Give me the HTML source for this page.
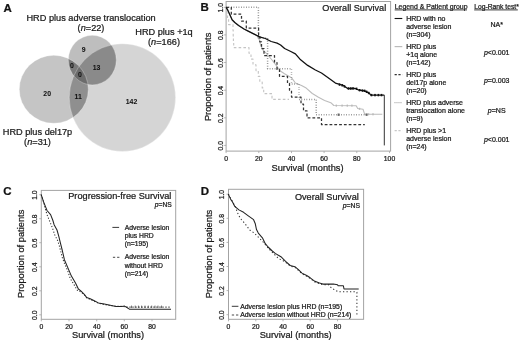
<!DOCTYPE html>
<html><head><meta charset="utf-8"><style>
html,body{margin:0;padding:0;background:#fff;}
svg{display:block;filter:grayscale(1);}
svg text{font-family:"Liberation Sans", sans-serif;stroke:#1a1a1a;stroke-width:0.24px;}
</style></head><body>
<svg width="520" height="341" viewBox="0 0 520 341">
<rect width="520" height="341" fill="#fff"/>
<defs>
<clipPath id="cL"><ellipse cx="122.4" cy="97.6" rx="53.2" ry="53.9" /></clipPath>
<clipPath id="cD"><ellipse cx="53.8" cy="89.3" rx="34.5" ry="34.0" /></clipPath>
<clipPath id="cT"><ellipse cx="92.3" cy="60.1" rx="24.0" ry="24.8" /></clipPath>
</defs>
<ellipse cx="122.4" cy="97.6" rx="53.2" ry="53.9" fill="#d5d5d5"/>
<ellipse cx="53.8" cy="89.3" rx="34.5" ry="34.0" fill="#c5c5c5"/>
<ellipse cx="92.3" cy="60.1" rx="24.0" ry="24.8" fill="#bebebe"/>
<g clip-path="url(#cL)"><ellipse cx="53.8" cy="89.3" rx="34.5" ry="34.0" fill="#8f8f8f"/><ellipse cx="92.3" cy="60.1" rx="24.0" ry="24.8" fill="#8a8a8a"/></g>
<g clip-path="url(#cD)"><ellipse cx="92.3" cy="60.1" rx="24.0" ry="24.8" fill="#7a7a7a"/></g>
<g clip-path="url(#cL)"><g clip-path="url(#cD)"><ellipse cx="92.3" cy="60.1" rx="24.0" ry="24.8" fill="#6c6c6c"/></g></g>
<ellipse cx="122.4" cy="97.6" rx="53.2" ry="53.9" fill="none" stroke="#ffffff" stroke-opacity="0.35" stroke-width="0.9"/>
<ellipse cx="53.8" cy="89.3" rx="34.5" ry="34.0" fill="none" stroke="#ffffff" stroke-opacity="0.35" stroke-width="0.9"/>
<ellipse cx="92.3" cy="60.1" rx="24.0" ry="24.8" fill="none" stroke="#ffffff" stroke-opacity="0.35" stroke-width="0.9"/>
<text x="3.4" y="11.6" font-size="11.5" text-anchor="start" font-weight="bold" fill="#111" >A</text>
<text x="91.1" y="20.7" font-size="9.2" text-anchor="middle" font-weight="normal" fill="#1a1a1a" >HRD plus adverse translocation</text>
<text x="91.0" y="30.9" font-size="9.2" text-anchor="middle" font-weight="normal" fill="#1a1a1a" >(<tspan font-style="italic">n</tspan>=22)</text>
<text x="164.0" y="35.2" font-size="9.2" text-anchor="middle" font-weight="normal" fill="#1a1a1a" >HRD plus +1q</text>
<text x="164.0" y="45.4" font-size="9.2" text-anchor="middle" font-weight="normal" fill="#1a1a1a" >(<tspan font-style="italic">n</tspan>=166)</text>
<text x="37.5" y="135.3" font-size="9.2" text-anchor="middle" font-weight="normal" fill="#1a1a1a" >HRD plus del17p</text>
<text x="37.5" y="145.3" font-size="9.2" text-anchor="middle" font-weight="normal" fill="#1a1a1a" >(<tspan font-style="italic">n</tspan>=31)</text>
<text x="83.6" y="51.5" font-size="6.9" text-anchor="middle" font-weight="bold" fill="#111" style="stroke-width:0.05px">9</text>
<text x="96.6" y="70.0" font-size="6.9" text-anchor="middle" font-weight="bold" fill="#111" style="stroke-width:0.05px">13</text>
<text x="72.0" y="68.2" font-size="6.9" text-anchor="middle" font-weight="bold" fill="#111" style="stroke-width:0.05px">0</text>
<text x="79.9" y="77.3" font-size="6.9" text-anchor="middle" font-weight="bold" fill="#111" style="stroke-width:0.05px">0</text>
<text x="47.2" y="95.9" font-size="6.9" text-anchor="middle" font-weight="bold" fill="#111" style="stroke-width:0.05px">20</text>
<text x="78.2" y="98.7" font-size="6.9" text-anchor="middle" font-weight="bold" fill="#111" style="stroke-width:0.05px">11</text>
<text x="131.5" y="103.8" font-size="6.9" text-anchor="middle" font-weight="bold" fill="#111" style="stroke-width:0.05px">142</text>
<text x="200.6" y="11.3" font-size="11.5" text-anchor="start" font-weight="bold" fill="#111" >B</text>
<rect x="226.1" y="1.5" width="164.50000000000003" height="149.6" fill="none" stroke="#a3a3a3" stroke-width="1"/>
<line x1="224.1" y1="145.4" x2="226.1" y2="145.4" stroke="#a3a3a3" stroke-width="0.8"/><text x="222.70000000000002" y="145.8" font-size="6.8" text-anchor="middle" fill="#222" transform="rotate(-90 222.70000000000002 145.8)">0.0</text><line x1="224.1" y1="117.8" x2="226.1" y2="117.8" stroke="#a3a3a3" stroke-width="0.8"/><text x="222.70000000000002" y="118.2" font-size="6.8" text-anchor="middle" fill="#222" transform="rotate(-90 222.70000000000002 118.2)">0.2</text><line x1="224.1" y1="90.2" x2="226.1" y2="90.2" stroke="#a3a3a3" stroke-width="0.8"/><text x="222.70000000000002" y="90.6" font-size="6.8" text-anchor="middle" fill="#222" transform="rotate(-90 222.70000000000002 90.6)">0.4</text><line x1="224.1" y1="62.5" x2="226.1" y2="62.5" stroke="#a3a3a3" stroke-width="0.8"/><text x="222.70000000000002" y="62.9" font-size="6.8" text-anchor="middle" fill="#222" transform="rotate(-90 222.70000000000002 62.9)">0.6</text><line x1="224.1" y1="34.9" x2="226.1" y2="34.9" stroke="#a3a3a3" stroke-width="0.8"/><text x="222.70000000000002" y="35.3" font-size="6.8" text-anchor="middle" fill="#222" transform="rotate(-90 222.70000000000002 35.3)">0.8</text><line x1="224.1" y1="7.3" x2="226.1" y2="7.3" stroke="#a3a3a3" stroke-width="0.8"/><text x="222.70000000000002" y="7.7" font-size="6.8" text-anchor="middle" fill="#222" transform="rotate(-90 222.70000000000002 7.7)">1.0</text>
<line x1="226.1" y1="151.1" x2="226.1" y2="153.1" stroke="#a3a3a3" stroke-width="0.8"/><text x="226.1" y="161.4" font-size="6.8" text-anchor="middle" fill="#222">0</text><line x1="258.8" y1="151.1" x2="258.8" y2="153.1" stroke="#a3a3a3" stroke-width="0.8"/><text x="258.8" y="161.4" font-size="6.8" text-anchor="middle" fill="#222">20</text><line x1="291.5" y1="151.1" x2="291.5" y2="153.1" stroke="#a3a3a3" stroke-width="0.8"/><text x="291.5" y="161.4" font-size="6.8" text-anchor="middle" fill="#222">40</text><line x1="324.1" y1="151.1" x2="324.1" y2="153.1" stroke="#a3a3a3" stroke-width="0.8"/><text x="324.1" y="161.4" font-size="6.8" text-anchor="middle" fill="#222">60</text><line x1="356.8" y1="151.1" x2="356.8" y2="153.1" stroke="#a3a3a3" stroke-width="0.8"/><text x="356.8" y="161.4" font-size="6.8" text-anchor="middle" fill="#222">80</text><line x1="389.5" y1="151.1" x2="389.5" y2="153.1" stroke="#a3a3a3" stroke-width="0.8"/><text x="389.5" y="161.4" font-size="6.8" text-anchor="middle" fill="#222">100</text>
<text x="307.5" y="170.8" font-size="9.25" text-anchor="middle" font-weight="normal" fill="#1a1a1a" >Survival (months)</text>
<text x="210.6" y="76.9" font-size="9.3" text-anchor="middle" fill="#1a1a1a" transform="rotate(-90 210.6 76.9)">Proportion of patients</text>
<text x="386.2" y="11.4" font-size="9.15" text-anchor="end" font-weight="normal" fill="#1a1a1a" >Overall Survival</text>
<polyline points="226.1,7.3 226.6,7.3 226.6,13.0 227.5,13.0 227.5,18.8 228.6,18.8 228.6,24.6 233.0,24.6 233.0,30.3 233.2,30.3 233.2,36.1 233.4,36.1 233.4,41.8 233.7,41.8 233.7,47.6 249.0,47.6 249.0,53.3 251.0,53.3 251.0,59.1 253.0,59.1 253.0,64.8 256.0,64.8 256.0,70.6 258.3,70.6 258.3,76.4 259.8,76.4 259.8,82.1 262.2,82.1 262.2,87.9 263.7,87.9 263.7,93.6 272.0,93.6 272.0,99.4 289.0,99.4 289.0,99.4" fill="none" stroke="#c4c4c4" stroke-width="1.1" stroke-dasharray="2.6 2.2" stroke-linejoin="round" stroke-opacity="1"/>
<polyline points="226.1,7.3 227.8,10.2 230.2,15.5 232.1,19.8 234.8,22.5 238.6,25.5 244.0,29.0 247.7,30.9 253.6,33.8 257.5,36.0 259.5,40.3 260.6,45.0 263.0,50.0 267.5,54.6 272.0,60.0 276.8,66.2 280.0,70.8 284.5,73.8 291.5,77.7 295.4,83.0 301.5,85.4 306.2,88.1 312.3,93.5 318.5,97.3 324.6,100.4 330.8,102.7 333.8,105.5 356.2,105.8 357.7,108.5 363.0,109.2 364.6,114.2 382.3,114.2" fill="none" stroke="#bcbcbc" stroke-width="1.1" stroke-linejoin="round" stroke-opacity="1"/>
<polyline points="226.1,7.3 258.4,7.3 258.4,38.0 267.6,38.0 267.6,68.7 291.5,68.7 291.5,84.1 299.0,84.1 299.0,99.4 316.2,99.4 316.2,114.7 366.2,114.7 366.2,114.7" fill="none" stroke="#777" stroke-width="1.5" stroke-dasharray="0.7 1.8" stroke-linejoin="round" stroke-opacity="1"/>
<rect x="337.6" y="113.5" width="2" height="2.4" fill="#666"/>
<rect x="365.6" y="113.5" width="2" height="2.4" fill="#666"/>
<rect x="335.6" y="104.6" width="1.4" height="2.0" fill="#b8b8b8"/>
<rect x="341.40000000000003" y="104.6" width="1.4" height="2.0" fill="#b8b8b8"/>
<rect x="346.6" y="104.6" width="1.4" height="2.0" fill="#b8b8b8"/>
<rect x="351.2" y="104.6" width="1.4" height="2.0" fill="#b8b8b8"/>
<rect x="358.8" y="107.8" width="1.4" height="2.0" fill="#b8b8b8"/>
<rect x="367.8" y="113.3" width="1.4" height="2.0" fill="#b8b8b8"/>
<rect x="372.3" y="113.3" width="1.4" height="2.0" fill="#b8b8b8"/>
<polyline points="226.1,7.3 231.3,7.3 231.3,14.2 241.5,14.2 241.5,21.1 246.3,21.1 246.3,28.0 258.6,28.0 258.6,34.9 259.8,34.9 259.8,41.8 261.5,41.8 261.5,48.7 264.0,48.7 264.0,55.6 274.5,55.6 274.5,62.5 277.0,62.5 277.0,69.4 279.5,69.4 279.5,76.4 287.5,76.4 287.5,83.3 289.5,83.3 289.5,90.2 291.5,90.2 291.5,97.1 301.0,97.1 301.0,104.0 303.5,104.0 303.5,110.9 307.0,110.9 307.0,117.8 321.5,117.8 321.5,124.7 364.8,124.7 364.8,124.7" fill="none" stroke="#333" stroke-width="1.25" stroke-dasharray="2.8 2" stroke-linejoin="round" stroke-opacity="1"/>
<polyline points="226.1,7.3 227.8,10.2 230.2,15.5 232.1,19.8 234.8,22.5 238.6,25.5 244.0,29.0 247.7,30.9 253.6,33.8 259.5,36.8 265.3,38.5 271.2,41.5 277.1,43.2 280.6,45.0 284.6,48.5 290.8,51.5 295.4,53.8 300.0,59.2 307.7,65.4 315.4,70.0 321.5,73.0 329.2,78.5 335.4,83.1 343.1,85.4 347.7,88.5 355.4,88.5 358.5,90.0 364.6,90.8 369.2,93.1 370.8,95.1 384.3,95.1" fill="none" stroke="#111" stroke-width="1.3" stroke-linejoin="round" stroke-opacity="1"/>
<line x1="384.3" y1="95.1" x2="384.3" y2="145.4" stroke="#333" stroke-width="1"/>
<rect x="338.7" y="83.39999999999999" width="1.6" height="2.4" fill="#111"/>
<rect x="341.4" y="84.1" width="1.6" height="2.4" fill="#111"/>
<rect x="352.2" y="87.2" width="1.6" height="2.4" fill="#111"/>
<rect x="355.8" y="87.6" width="1.6" height="2.4" fill="#111"/>
<rect x="361.7" y="89.39999999999999" width="1.6" height="2.4" fill="#111"/>
<rect x="365.8" y="90.6" width="1.6" height="2.4" fill="#111"/>
<rect x="370.7" y="93.89999999999999" width="1.6" height="2.4" fill="#111"/>
<rect x="374.2" y="93.89999999999999" width="1.6" height="2.4" fill="#111"/>
<rect x="377.59999999999997" y="93.89999999999999" width="1.6" height="2.4" fill="#111"/>
<rect x="380.7" y="93.89999999999999" width="1.6" height="2.4" fill="#111"/>
<rect x="343.7" y="85.2" width="1.6" height="2.4" fill="#111"/>
<rect x="347.7" y="87.3" width="1.6" height="2.4" fill="#111"/>
<rect x="350.0" y="87.3" width="1.6" height="2.4" fill="#111"/>
<rect x="358.8" y="89.0" width="1.6" height="2.4" fill="#111"/>
<rect x="363.8" y="89.6" width="1.6" height="2.4" fill="#111"/>
<rect x="367.9" y="91.8" width="1.6" height="2.4" fill="#111"/>
<text x="394.7" y="8.6" font-size="6.95" fill="#1a1a1a">Legend &amp; Patient group</text>
<text x="474.2" y="8.6" font-size="6.75" fill="#1a1a1a">Log-Rank test*</text>
<line x1="394.7" y1="9.9" x2="467" y2="9.9" stroke="#222" stroke-width="0.9"/>
<line x1="474.2" y1="9.9" x2="517.8" y2="9.9" stroke="#222" stroke-width="0.9"/>
<text x="406.2" y="20.8" font-size="7.0" text-anchor="start" font-weight="normal" fill="#1a1a1a" >HRD with no</text>
<text x="406.2" y="28.85" font-size="7.0" text-anchor="start" font-weight="normal" fill="#1a1a1a" >adverse lesion</text>
<text x="406.2" y="36.900000000000006" font-size="7.0" text-anchor="start" font-weight="normal" fill="#1a1a1a" >(n=304)</text>
<text x="496.7" y="26.9" font-size="7.0" text-anchor="middle" font-weight="normal" fill="#1a1a1a" >NA*</text>
<line x1="394.6" y1="18.5" x2="402.3" y2="18.5" stroke="#111" stroke-width="1.1"/>
<text x="406.2" y="48.9" font-size="7.0" text-anchor="start" font-weight="normal" fill="#1a1a1a" >HRD plus</text>
<text x="406.2" y="56.95" font-size="7.0" text-anchor="start" font-weight="normal" fill="#1a1a1a" >+1q alone</text>
<text x="406.2" y="65.0" font-size="7.0" text-anchor="start" font-weight="normal" fill="#1a1a1a" >(n=142)</text>
<text x="496.7" y="55.0" font-size="7.0" text-anchor="middle" font-weight="normal" fill="#1a1a1a" ><tspan font-style="italic">p</tspan>&lt;0.001</text>
<line x1="394.6" y1="46.6" x2="402.3" y2="46.6" stroke="#bbb" stroke-width="1.2"/>
<text x="406.2" y="76.9" font-size="7.0" text-anchor="start" font-weight="normal" fill="#1a1a1a" >HRD plus</text>
<text x="406.2" y="84.95" font-size="7.0" text-anchor="start" font-weight="normal" fill="#1a1a1a" >del17p alone</text>
<text x="406.2" y="93.0" font-size="7.0" text-anchor="start" font-weight="normal" fill="#1a1a1a" >(n=20)</text>
<text x="496.7" y="83.1" font-size="7.0" text-anchor="middle" font-weight="normal" fill="#1a1a1a" ><tspan font-style="italic">p</tspan>=0.003</text>
<line x1="394.6" y1="74.60000000000001" x2="402.3" y2="74.60000000000001" stroke="#333" stroke-width="1.3" stroke-dasharray="2.2 1.6"/>
<text x="406.2" y="105.0" font-size="7.0" text-anchor="start" font-weight="normal" fill="#1a1a1a" >HRD plus adverse</text>
<text x="406.2" y="113.05" font-size="7.0" text-anchor="start" font-weight="normal" fill="#1a1a1a" >translocation alone</text>
<text x="406.2" y="121.1" font-size="7.0" text-anchor="start" font-weight="normal" fill="#1a1a1a" >(n=9)</text>
<text x="496.7" y="113.1" font-size="7.0" text-anchor="middle" font-weight="normal" fill="#1a1a1a" ><tspan font-style="italic">p</tspan>=NS</text>
<line x1="394.6" y1="102.7" x2="402.3" y2="102.7" stroke="#666" stroke-width="0.9" stroke-dasharray="0.8 1.2"/>
<text x="406.2" y="132.9" font-size="7.0" text-anchor="start" font-weight="normal" fill="#1a1a1a" >HRD plus &gt;1</text>
<text x="406.2" y="140.95000000000002" font-size="7.0" text-anchor="start" font-weight="normal" fill="#1a1a1a" >adverse lesion</text>
<text x="406.2" y="149.0" font-size="7.0" text-anchor="start" font-weight="normal" fill="#1a1a1a" >(n=24)</text>
<text x="496.7" y="142.0" font-size="7.0" text-anchor="middle" font-weight="normal" fill="#1a1a1a" ><tspan font-style="italic">p</tspan>&lt;0.001</text>
<line x1="394.6" y1="130.6" x2="402.3" y2="130.6" stroke="#c8c8c8" stroke-width="1.1" stroke-dasharray="2.2 1.6"/>
<text x="3.3" y="195.0" font-size="11.5" text-anchor="start" font-weight="bold" fill="#111" >C</text>
<rect x="41.3" y="190.4" width="134.39999999999998" height="128.9" fill="none" stroke="#a3a3a3" stroke-width="1"/>
<line x1="39.3" y1="314.8" x2="41.3" y2="314.8" stroke="#a3a3a3" stroke-width="0.8"/><text x="36.699999999999996" y="315.2" font-size="6.8" text-anchor="middle" fill="#222" transform="rotate(-90 36.699999999999996 315.2)">0.0</text><line x1="39.3" y1="290.8" x2="41.3" y2="290.8" stroke="#a3a3a3" stroke-width="0.8"/><text x="36.699999999999996" y="291.2" font-size="6.8" text-anchor="middle" fill="#222" transform="rotate(-90 36.699999999999996 291.2)">0.2</text><line x1="39.3" y1="266.8" x2="41.3" y2="266.8" stroke="#a3a3a3" stroke-width="0.8"/><text x="36.699999999999996" y="267.2" font-size="6.8" text-anchor="middle" fill="#222" transform="rotate(-90 36.699999999999996 267.2)">0.4</text><line x1="39.3" y1="242.7" x2="41.3" y2="242.7" stroke="#a3a3a3" stroke-width="0.8"/><text x="36.699999999999996" y="243.1" font-size="6.8" text-anchor="middle" fill="#222" transform="rotate(-90 36.699999999999996 243.1)">0.6</text><line x1="39.3" y1="218.7" x2="41.3" y2="218.7" stroke="#a3a3a3" stroke-width="0.8"/><text x="36.699999999999996" y="219.1" font-size="6.8" text-anchor="middle" fill="#222" transform="rotate(-90 36.699999999999996 219.1)">0.8</text><line x1="39.3" y1="194.7" x2="41.3" y2="194.7" stroke="#a3a3a3" stroke-width="0.8"/><text x="36.699999999999996" y="195.1" font-size="6.8" text-anchor="middle" fill="#222" transform="rotate(-90 36.699999999999996 195.1)">1.0</text>
<line x1="41.3" y1="319.3" x2="41.3" y2="321.3" stroke="#a3a3a3" stroke-width="0.8"/><text x="41.3" y="329.0" font-size="6.8" text-anchor="middle" fill="#222">0</text><line x1="69.0" y1="319.3" x2="69.0" y2="321.3" stroke="#a3a3a3" stroke-width="0.8"/><text x="69.0" y="329.0" font-size="6.8" text-anchor="middle" fill="#222">20</text><line x1="96.7" y1="319.3" x2="96.7" y2="321.3" stroke="#a3a3a3" stroke-width="0.8"/><text x="96.7" y="329.0" font-size="6.8" text-anchor="middle" fill="#222">40</text><line x1="124.3" y1="319.3" x2="124.3" y2="321.3" stroke="#a3a3a3" stroke-width="0.8"/><text x="124.3" y="329.0" font-size="6.8" text-anchor="middle" fill="#222">60</text><line x1="152.0" y1="319.3" x2="152.0" y2="321.3" stroke="#a3a3a3" stroke-width="0.8"/><text x="152.0" y="329.0" font-size="6.8" text-anchor="middle" fill="#222">80</text>
<text x="108.0" y="338.4" font-size="9.25" text-anchor="middle" font-weight="normal" fill="#1a1a1a" >Survival (months)</text>
<text x="23.8" y="254.4" font-size="9.3" text-anchor="middle" fill="#1a1a1a" transform="rotate(-90 23.8 253.9)">Proportion of patients</text>
<text x="171.4" y="199.2" font-size="9.2" text-anchor="end" font-weight="normal" fill="#1a1a1a" >Progression-free Survival</text>
<text x="171.8" y="207.4" font-size="6.7" text-anchor="end" font-weight="normal" fill="#1a1a1a" ><tspan font-style="italic">p</tspan>=NS</text>
<polyline points="41.2,194.7 43.0,200.0 45.3,208.8 47.0,214.6 49.4,220.5 52.3,227.6 54.7,234.7 57.6,240.5 59.3,245.8 61.1,252.8 62.3,257.5 64.4,263.2 67.9,271.4 70.2,278.4 73.8,284.3 77.3,290.2 80.8,292.0 84.3,294.8 86.7,297.8 90.2,299.4 93.8,301.0 98.4,303.2 104.3,304.5 110.2,305.5 116.0,306.3 121.9,306.4 126.0,306.8 128.0,307.1 171.0,307.1" fill="none" stroke="#333" stroke-width="1.05" stroke-dasharray="1.2 1.8" stroke-linejoin="round" stroke-opacity="1"/>
<polyline points="41.2,194.7 43.5,201.7 45.9,207.6 47.0,210.5 50.6,214.6 52.9,220.5 54.1,224.7 57.0,230.0 58.8,236.4 60.5,243.4 62.3,250.5 64.4,259.7 67.9,267.9 71.4,276.1 75.5,283.1 78.4,289.0 80.8,290.8 84.3,294.3 86.7,297.6 90.2,298.8 93.8,300.5 98.4,302.9 104.3,304.0 110.2,305.2 116.0,306.4 121.9,306.4 124.6,306.1 128.1,308.2 129.6,309.3 171.0,309.3" fill="none" stroke="#222" stroke-width="1.05" stroke-linejoin="round" stroke-opacity="1"/>
<line x1="131.5" y1="305.6" x2="131.5" y2="308.0" stroke="#333" stroke-width="0.7"/>
<line x1="135.2" y1="305.6" x2="135.2" y2="308.0" stroke="#333" stroke-width="0.7"/>
<line x1="138.4" y1="305.6" x2="138.4" y2="308.0" stroke="#333" stroke-width="0.7"/>
<line x1="141.6" y1="305.6" x2="141.6" y2="308.0" stroke="#333" stroke-width="0.7"/>
<line x1="145.0" y1="305.6" x2="145.0" y2="308.0" stroke="#333" stroke-width="0.7"/>
<line x1="148.3" y1="305.6" x2="148.3" y2="308.0" stroke="#333" stroke-width="0.7"/>
<line x1="151.7" y1="305.6" x2="151.7" y2="308.0" stroke="#333" stroke-width="0.7"/>
<line x1="155.0" y1="305.6" x2="155.0" y2="308.0" stroke="#333" stroke-width="0.7"/>
<line x1="158.0" y1="305.6" x2="158.0" y2="308.0" stroke="#333" stroke-width="0.7"/>
<line x1="161.5" y1="305.6" x2="161.5" y2="308.0" stroke="#333" stroke-width="0.7"/>
<text x="124.7" y="229.5" font-size="6.8" text-anchor="start" font-weight="normal" fill="#1a1a1a" >Adverse lesion</text>
<text x="124.7" y="237.7" font-size="6.8" text-anchor="start" font-weight="normal" fill="#1a1a1a" >plus HRD</text>
<text x="124.7" y="245.8" font-size="6.8" text-anchor="start" font-weight="normal" fill="#1a1a1a" >(n=195)</text>
<text x="124.7" y="259.4" font-size="6.8" text-anchor="start" font-weight="normal" fill="#1a1a1a" >Adverse lesion</text>
<text x="124.7" y="267.6" font-size="6.8" text-anchor="start" font-weight="normal" fill="#1a1a1a" >without HRD</text>
<text x="124.7" y="275.6" font-size="6.8" text-anchor="start" font-weight="normal" fill="#1a1a1a" >(n=214)</text>
<line x1="112.4" y1="227.4" x2="119.1" y2="227.4" stroke="#222" stroke-width="0.9"/>
<line x1="112.9" y1="257.3" x2="119.6" y2="257.3" stroke="#333" stroke-width="0.9" stroke-dasharray="2.3 1.9"/>
<text x="200.7" y="195.4" font-size="11.5" text-anchor="start" font-weight="bold" fill="#111" >D</text>
<rect x="228.5" y="189.3" width="135.10000000000002" height="130.0" fill="none" stroke="#a3a3a3" stroke-width="1"/>
<line x1="226.5" y1="314.7" x2="228.5" y2="314.7" stroke="#a3a3a3" stroke-width="0.8"/><text x="224.0" y="315.1" font-size="6.8" text-anchor="middle" fill="#222" transform="rotate(-90 224.0 315.1)">0.0</text><line x1="226.5" y1="290.6" x2="228.5" y2="290.6" stroke="#a3a3a3" stroke-width="0.8"/><text x="224.0" y="291.0" font-size="6.8" text-anchor="middle" fill="#222" transform="rotate(-90 224.0 291.0)">0.2</text><line x1="226.5" y1="266.5" x2="228.5" y2="266.5" stroke="#a3a3a3" stroke-width="0.8"/><text x="224.0" y="266.9" font-size="6.8" text-anchor="middle" fill="#222" transform="rotate(-90 224.0 266.9)">0.4</text><line x1="226.5" y1="242.4" x2="228.5" y2="242.4" stroke="#a3a3a3" stroke-width="0.8"/><text x="224.0" y="242.8" font-size="6.8" text-anchor="middle" fill="#222" transform="rotate(-90 224.0 242.8)">0.6</text><line x1="226.5" y1="218.3" x2="228.5" y2="218.3" stroke="#a3a3a3" stroke-width="0.8"/><text x="224.0" y="218.7" font-size="6.8" text-anchor="middle" fill="#222" transform="rotate(-90 224.0 218.7)">0.8</text><line x1="226.5" y1="194.2" x2="228.5" y2="194.2" stroke="#a3a3a3" stroke-width="0.8"/><text x="224.0" y="194.6" font-size="6.8" text-anchor="middle" fill="#222" transform="rotate(-90 224.0 194.6)">1.0</text>
<line x1="228.5" y1="319.3" x2="228.5" y2="321.3" stroke="#a3a3a3" stroke-width="0.8"/><text x="228.5" y="329.0" font-size="6.8" text-anchor="middle" fill="#222">0</text><line x1="255.8" y1="319.3" x2="255.8" y2="321.3" stroke="#a3a3a3" stroke-width="0.8"/><text x="255.8" y="329.0" font-size="6.8" text-anchor="middle" fill="#222">20</text><line x1="283.0" y1="319.3" x2="283.0" y2="321.3" stroke="#a3a3a3" stroke-width="0.8"/><text x="283.0" y="329.0" font-size="6.8" text-anchor="middle" fill="#222">40</text><line x1="310.2" y1="319.3" x2="310.2" y2="321.3" stroke="#a3a3a3" stroke-width="0.8"/><text x="310.2" y="329.0" font-size="6.8" text-anchor="middle" fill="#222">60</text><line x1="337.5" y1="319.3" x2="337.5" y2="321.3" stroke="#a3a3a3" stroke-width="0.8"/><text x="337.5" y="329.0" font-size="6.8" text-anchor="middle" fill="#222">80</text>
<text x="295.7" y="338.0" font-size="9.25" text-anchor="middle" font-weight="normal" fill="#1a1a1a" >Survival (months)</text>
<text x="211.6" y="254.4" font-size="9.3" text-anchor="middle" fill="#1a1a1a" transform="rotate(-90 211.6 254.0)">Proportion of patients</text>
<text x="358.8" y="199.6" font-size="9.15" text-anchor="end" font-weight="normal" fill="#1a1a1a" >Overall Survival</text>
<text x="360.0" y="207.5" font-size="6.8" text-anchor="end" font-weight="normal" fill="#1a1a1a" ><tspan font-style="italic">p</tspan>=NS</text>
<polyline points="228.3,194.1 231.9,200.5 235.4,207.0 237.1,211.7 238.9,215.8 241.2,219.3 244.2,222.8 247.1,226.3 249.4,229.8 254.1,232.9 258.8,237.6 262.3,241.1 265.8,245.2 269.9,249.9 274.0,254.0 277.5,257.5 279.7,259.1 283.2,260.8 286.0,262.6 290.2,266.0 295.0,267.5 298.4,270.3 302.0,273.8 306.7,276.2 310.2,278.5 314.9,282.0 319.5,283.8 322.9,284.7 328.8,284.7 331.1,287.6 334.6,289.9 338.1,291.7 355.7,291.7 356.9,292.3 356.9,314.7" fill="none" stroke="#333" stroke-width="1.05" stroke-dasharray="1.3 2.2" stroke-linejoin="round" stroke-opacity="1"/>
<polyline points="228.3,194.1 230.7,199.4 232.4,201.7 234.8,206.4 238.9,209.9 243.6,212.3 248.3,215.8 253.6,219.7 255.3,223.8 256.5,229.6 258.3,233.1 262.4,237.8 265.3,243.7 268.1,247.0 271.7,250.5 275.2,253.4 280.9,256.7 285.6,261.4 290.2,265.5 294.9,266.7 298.4,269.6 302.0,273.1 306.7,275.5 310.2,277.8 314.9,281.3 319.5,283.1 322.9,284.1 333.4,284.1 337.5,284.7 338.1,285.8 343.4,285.8 344.0,289.0 358.7,289.0" fill="none" stroke="#222" stroke-width="1.05" stroke-linejoin="round" stroke-opacity="1"/>
<line x1="231.8" y1="306.3" x2="238.4" y2="306.3" stroke="#222" stroke-width="0.9"/>
<line x1="231.8" y1="315.0" x2="238.6" y2="315.0" stroke="#333" stroke-width="0.9" stroke-dasharray="2.3 1.9"/>
<text x="240.2" y="308.6" font-size="6.87" text-anchor="start" font-weight="normal" fill="#1a1a1a" >Adverse lesion plus HRD (n=195)</text>
<text x="240.2" y="316.8" font-size="6.87" text-anchor="start" font-weight="normal" fill="#1a1a1a" >Adverse lesion without HRD (n=214)</text>
</svg>
</body></html>
